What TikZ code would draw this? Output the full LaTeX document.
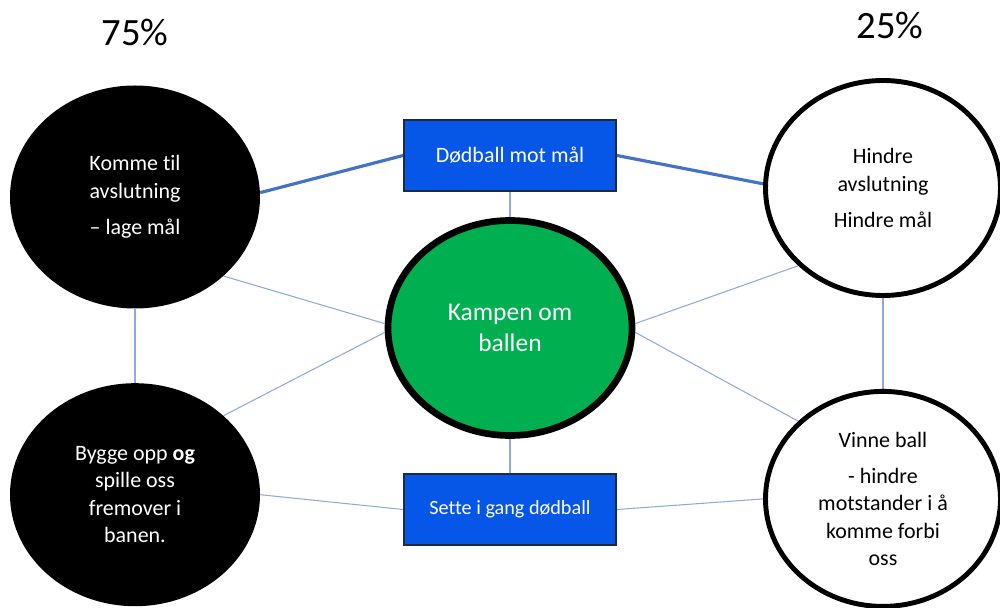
\documentclass[tikz,border=0pt]{standalone}
\usepackage{fontspec}
\setmainfont{Carlito}[Ligatures=NoCommon]
\usepackage{tikz}
\usetikzlibrary{backgrounds,positioning,shapes.geometric}
\definecolor{ballgreen}{HTML}{00B050}
\definecolor{boxblue}{HTML}{0656E8}
\definecolor{boxedge}{HTML}{1E2B3C}
\definecolor{linkblue}{HTML}{4472C4}
\definecolor{thinblue}{HTML}{8EAADC}
\tikzset{
  phase/.style={ellipse,inner sep=0pt,align=center,
                font=\fontsize{12.5}{15.6}\selectfont},
  attack/.style={phase,fill=black,text=white,minimum width=50mm,minimum height=44.6mm},
  defend/.style={phase,fill=white,draw=black,line width=2.8pt,text=black,
                 minimum width=47mm,minimum height=43mm},
  ball/.style={phase,fill=ballgreen,draw=black,line width=3.8pt,text=white,
               minimum width=48.8mm,minimum height=43mm,font=\fontsize{14.5}{17.6}\selectfont},
  deadball/.style={rectangle,fill=boxblue,draw=boxedge,line width=.8pt,text=white,
                   minimum width=42.4mm,minimum height=14.2mm,inner sep=2pt,
                   font=\fontsize{12.5}{15}\selectfont},
  pct/.style={inner sep=0pt,font=\fontsize{22}{26}\selectfont},
  thinlink/.style={draw=thinblue,line width=.6pt},
  thicklink/.style={draw=linkblue,line width=1.8pt}
}
\begin{document}
\begin{tikzpicture}
  \useasboundingbox (0,0) rectangle (20,-12.16);
  % attack / defence phases
  \node[attack] (tl) at (2.70,-3.94) {Komme til\\avslutning\\[5pt]– lage mål};
  \node[attack,below=14.8mm of tl] (bl) {Bygge opp \textbf{og}\\spille oss\\fremover i\\banen.};
  \node[ball] (kamp) at (10.20,-6.56) {Kampen om\\ballen};
  \node[defend] (tr) at (17.66,-3.76) {Hindre\\avslutning\\[5pt]Hindre mål};
  \node[defend,below=18.2mm of tr] (br) {Vinne ball\\[5pt]- hindre\\motstander i å\\komme forbi\\oss};
  % set pieces
  \node[deadball,above=5.1mm of kamp] (dmm) {Dødball mot mål};
  \node[deadball,below=6.9mm of kamp,font=\fontsize{11.5}{14}\selectfont] (sig) {Sette i gang dødball};
  \node[pct] (p75) at (2.70,-0.64) {75\%};
  \node[pct] (p25) at (17.80,-0.50) {25\%};
  \begin{scope}[on background layer]
    \draw[thicklink] (tl.2) -- (dmm.west);
    \draw[thicklink] (tr.178) -- (dmm.east);
    \draw[thinlink] (dmm.south) -- (kamp.north);
    \draw[thinlink] (kamp.south) -- (sig.north);
    \draw[thinlink] (tl.south) -- (bl.north);
    \draw[thinlink] (tr.south) -- (br.north);
    \draw[thinlink] (tl.south east) -- (kamp.178);
    \draw[thinlink] (bl.north east) -- (kamp.182);
    \draw[thinlink] (tr.south west) -- (kamp.2);
    \draw[thinlink] (br.north west) -- (kamp.358);
    \draw[thinlink] (bl.east) -- (sig.west);
    \draw[thinlink] (sig.east) -- (br.west);
  \end{scope}
\end{tikzpicture}
\end{document}
